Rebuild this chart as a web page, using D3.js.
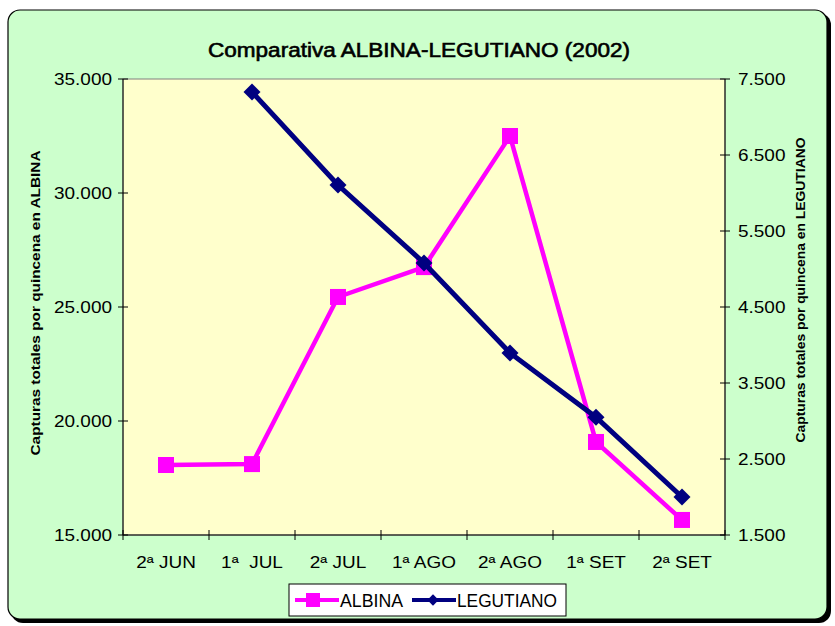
<!DOCTYPE html>
<html>
<head>
<meta charset="utf-8">
<script src="https://cdn.jsdelivr.net/npm/d3@7"></script>
<style>
  body { margin: 0; background: #fff; }
  text { font-family: "Liberation Sans", Arial, sans-serif; }
</style>
</head>
<body>
<script>
// Datos
const quincenas = ["2ª JUN", "1ª  JUL", "2ª JUL", "1ª AGO", "2ª AGO", "1ª SET", "2ª SET"];
const albina = [18070, 18110, 25440, 26750, 32500, 19080, 15660];
const legutiano = [null, 7330, 6105, 5080, 3895, 3050, 2000];
const ticksIzq = [15000, 20000, 25000, 30000, 35000];
const ticksDer = [1500, 2500, 3500, 4500, 5500, 6500, 7500];

const width = 835, height = 626;
const margin = { left: 123, right: 110, top: 79, bottom: 91 };
const pw = width - margin.left - margin.right;
const ph = height - margin.top - margin.bottom;
const stretch = 1.15; // el texto del original sale algo ensanchado

const svg = d3.select("body").append("svg")
    .attr("width", width)
    .attr("height", height);

// Sombra + fondo del gráfico
svg.append("rect")
    .attr("x", 11).attr("y", 13).attr("width", 820).attr("height", 610)
    .attr("rx", 12).attr("fill", "#000");
svg.append("rect")
    .attr("x", 8).attr("y", 10).attr("width", 819).attr("height", 609)
    .attr("rx", 12).attr("fill", "#CCFFCC")
    .attr("stroke", "#000").attr("stroke-width", 1.2);

// Título
svg.append("text")
    .attr("x", 419).attr("y", 57)
    .attr("text-anchor", "middle")
    .attr("font-size", 20)
    .attr("stroke", "#000").attr("stroke-width", 0.6)
    .attr("textLength", 422).attr("lengthAdjust", "spacingAndGlyphs")
    .attr("fill", "#000")
    .text("Comparativa ALBINA-LEGUTIANO (2002)");

const g = svg.append("g").attr("transform", `translate(${margin.left},${margin.top})`);

// Escalas
const x = d3.scaleBand().domain(quincenas).range([0, pw]);
const yL = d3.scaleLinear().domain([15000, 35000]).range([ph, 0]);
const yR = d3.scaleLinear().domain([1500, 7500]).range([ph, 0]);

const es = d3.formatLocale({ decimal: ",", thousands: ".", grouping: [3], currency: ["", "€"] });
const fmt = es.format(",.0f");

// Área de trazado
g.append("rect")
    .attr("width", pw).attr("height", ph)
    .attr("fill", "#FFFFCC")
    .attr("stroke", "#808080").attr("stroke-width", 1);

// Eje X
const xAxis = g.append("g").attr("transform", `translate(0,${ph})`);
xAxis.append("line").attr("x1", 0).attr("x2", pw).attr("stroke", "#000");
xAxis.selectAll("line.tk")
    .data(d3.range(quincenas.length + 1))
    .enter().append("line")
    .attr("class", "tk")
    .attr("x1", i => i * x.step()).attr("x2", i => i * x.step())
    .attr("y1", -5).attr("y2", 5)
    .attr("stroke", "#000");
xAxis.selectAll("text")
    .data(quincenas)
    .enter().append("text")
    .attr("transform", d => `translate(${x(d) + x.bandwidth() / 2},33) scale(${stretch},1)`)
    .attr("text-anchor", "middle")
    .attr("font-size", 16.5)
    .attr("xml:space", "preserve")
    .style("white-space", "pre")
    .text(d => d);

// Eje izquierdo
const axL = g.append("g");
axL.append("line").attr("y1", 0).attr("y2", ph).attr("stroke", "#000");
axL.selectAll("line.tk").data(ticksIzq).enter().append("line")
    .attr("class", "tk")
    .attr("x1", -5).attr("x2", 5)
    .attr("y1", d => yL(d)).attr("y2", d => yL(d))
    .attr("stroke", "#000");
axL.selectAll("text").data(ticksIzq).enter().append("text")
    .attr("transform", d => `translate(-11,${yL(d)}) scale(${stretch},1)`)
    .attr("dy", "0.36em")
    .attr("text-anchor", "end").attr("font-size", 16.5)
    .text(d => fmt(d));

// Eje derecho
const axR = g.append("g").attr("transform", `translate(${pw},0)`);
axR.selectAll("line.tk").data(ticksDer).enter().append("line")
    .attr("class", "tk")
    .attr("x1", -5).attr("x2", 5)
    .attr("y1", d => yR(d)).attr("y2", d => yR(d))
    .attr("stroke", "#000");
axR.append("line").attr("y1", 0).attr("y2", ph).attr("stroke", "#000");
axR.selectAll("text").data(ticksDer).enter().append("text")
    .attr("transform", d => `translate(13,${yR(d)}) scale(${stretch},1)`)
    .attr("dy", "0.36em")
    .attr("text-anchor", "start").attr("font-size", 16.5)
    .text(d => fmt(d));

// Títulos de ejes
svg.append("text")
    .attr("transform", "translate(40,303) rotate(-90)")
    .attr("text-anchor", "middle")
    .attr("font-size", 13).attr("font-weight", "bold")
    .attr("textLength", 305).attr("lengthAdjust", "spacingAndGlyphs")
    .text("Capturas totales por quincena en ALBINA");
svg.append("text")
    .attr("transform", "translate(805,290) rotate(-90)")
    .attr("text-anchor", "middle")
    .attr("font-size", 13).attr("font-weight", "bold")
    .attr("textLength", 305).attr("lengthAdjust", "spacingAndGlyphs")
    .text("Capturas totales por quincena en LEGUTIANO");

const cx = d => x(d) + x.bandwidth() / 2;

// Serie ALBINA
const albData = quincenas.map((q, i) => ({ q, v: albina[i] }));
g.append("path")
    .datum(albData)
    .attr("fill", "none")
    .attr("stroke", "#FF00FF")
    .attr("stroke-width", 4.5)
    .attr("d", d3.line().x(d => cx(d.q)).y(d => yL(d.v)));
g.selectAll("rect.alb").data(albData).enter().append("rect")
    .attr("class", "alb")
    .attr("x", d => cx(d.q) - 8).attr("y", d => yL(d.v) - 8)
    .attr("width", 16).attr("height", 16)
    .attr("fill", "#FF00FF");

// Serie LEGUTIANO
const legData = quincenas.map((q, i) => ({ q, v: legutiano[i] })).filter(d => d.v != null);
g.append("path")
    .datum(legData)
    .attr("fill", "none")
    .attr("stroke", "#000080")
    .attr("stroke-width", 5)
    .attr("d", d3.line().x(d => cx(d.q)).y(d => yR(d.v)));
g.selectAll("path.leg").data(legData).enter().append("path")
    .attr("class", "leg")
    .attr("transform", d => `translate(${cx(d.q)},${yR(d.v)}) rotate(45)`)
    .attr("d", "M-6,-6H6V6H-6Z")
    .attr("fill", "#000080");

// Leyenda
const lg = svg.append("g").attr("transform", "translate(289,584)");
lg.append("rect").attr("width", 277).attr("height", 32)
    .attr("fill", "#fff").attr("stroke", "#000").attr("stroke-width", 1);
lg.append("line").attr("x1", 6).attr("x2", 50).attr("y1", 16).attr("y2", 16)
    .attr("stroke", "#FF00FF").attr("stroke-width", 4);
lg.append("rect").attr("x", 17).attr("y", 9).attr("width", 14).attr("height", 14).attr("fill", "#FF00FF");
lg.append("text").attr("x", 51).attr("y", 23).attr("font-size", 18)
    .attr("textLength", 63).attr("lengthAdjust", "spacingAndGlyphs").text("ALBINA");
lg.append("line").attr("x1", 123).attr("x2", 167).attr("y1", 16).attr("y2", 16)
    .attr("stroke", "#000080").attr("stroke-width", 4);
lg.append("path").attr("transform", "translate(144,16) rotate(45)")
    .attr("d", "M-4,-4H4V4H-4Z").attr("fill", "#000080");
lg.append("text").attr("x", 168).attr("y", 23).attr("font-size", 18)
    .attr("textLength", 100).attr("lengthAdjust", "spacingAndGlyphs").text("LEGUTIANO");
</script>
</body>
</html>
